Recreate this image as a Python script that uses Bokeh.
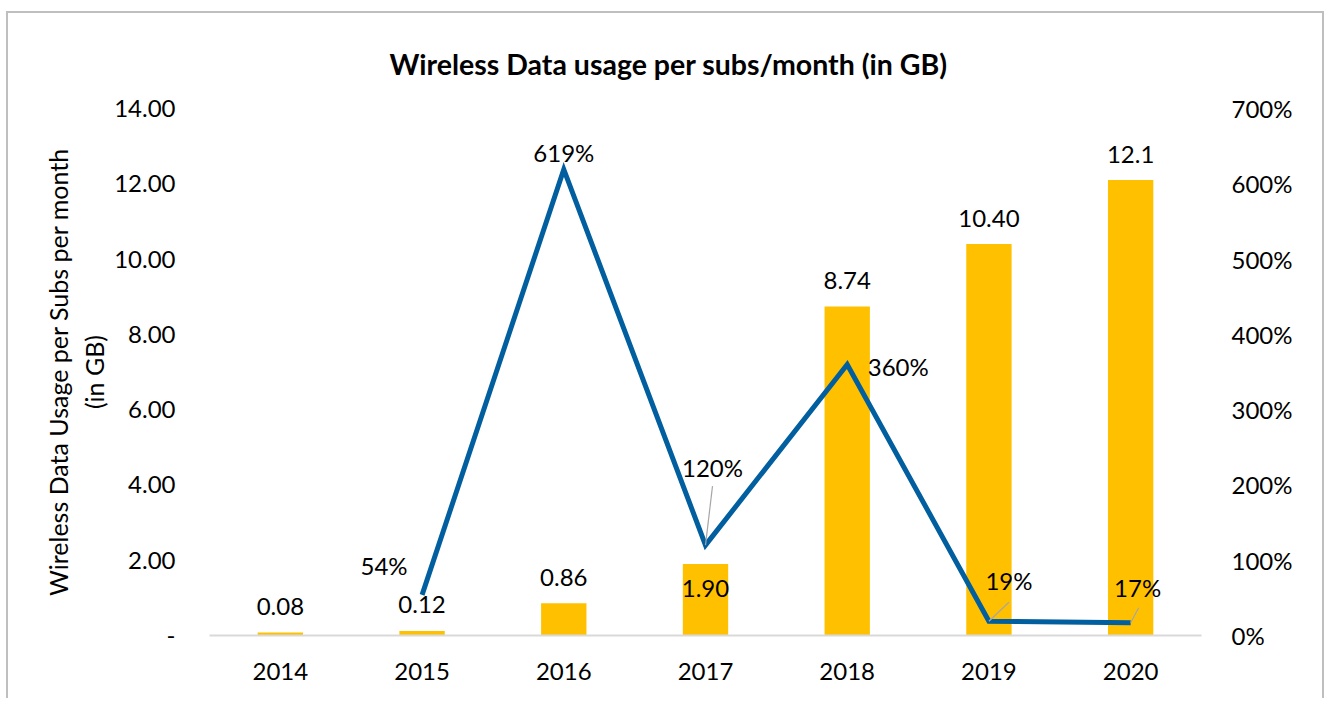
from bokeh.plotting import figure
from bokeh.models import (Range1d, LinearAxis, FixedTicker, NumeralTickFormatter,
                          ColumnDataSource, FactorRange)
from bokeh.core.properties import value
from bokeh.embed import file_html
from bokeh.resources import INLINE

# ---- data ----
years = ["2014", "2015", "2016", "2017", "2018", "2019", "2020"]
usage_gb = [0.08, 0.12, 0.86, 1.90, 8.74, 10.40, 12.1]
usage_labels = ["0.08", "0.12", "0.86", "1.90", "8.74", "10.40", "12.1"]
growth_years = ["2015", "2016", "2017", "2018", "2019", "2020"]
growth_pct = [0.54, 6.19, 1.20, 3.60, 0.19, 0.17]
growth_labels = ["54%", "619%", "120%", "360%", "19%", "17%"]
left_ticks = [0, 2, 4, 6, 8, 10, 12, 14]
right_ticks = [0, 1, 2, 3, 4, 5, 6, 7]
title_text = "Wireless Data usage per subs/month (in GB)"
y_label = "Wireless Data Usage per Subs per month\n(in GB)"

# ---- styles ----
FONT = "Lato"
BAR = "#FFC000"
LINE = "#015E9F"
FS = "24px"
bar_label_dy = [-26, -26, -26, 25, -26, -26, -26]
line_label_dx = [-38, 0, 7, 51, 20, 7]
line_label_dy = [-29, -17, -78, 2, -41, -35]
leader_years_idx = [3, 5, 6]          # 2017, 2019, 2020
leader_dx_px = [7, 20, 8]
leader_dy_px = [59, 19, 15]

FRAME_W, FRAME_H = 992, 527
px_per_cat = FRAME_W / len(years)
px_per_pct = FRAME_H / right_ticks[-1]

p = figure(x_range=FactorRange(*years), y_range=Range1d(left_ticks[0], left_ticks[-1]),
           width=1324, height=698, output_backend="svg", toolbar_location=None,
           min_border_left=209, min_border_right=123, min_border_top=108,
           min_border_bottom=63, title=title_text)
p.border_fill_color = None
p.background_fill_color = None
p.styles = {"box-shadow": "inset 0 11px 0 #ffffff, inset 6px 0 0 #ffffff, "
                          "inset 0 13px 0 #bfbfbf, inset 8px 0 0 #bfbfbf, "
                          "inset -2px 0 0 #bfbfbf"}
p.extra_y_ranges = {"pct": Range1d(right_ticks[0], right_ticks[-1])}
p.outline_line_color = None
p.xgrid.grid_line_color = None
p.ygrid.grid_line_color = None

p.title.text_font = FONT
p.title.text_font_size = "28.5px"
p.title.text_font_style = "bold"
p.title.text_color = "#000000"
p.title.align = "left"
p.title.offset = 180
p.title.standoff = 55

# bars
p.vbar(x=years, top=usage_gb, width=0.32, fill_color=BAR, line_color=None)

# line
p.line(x=growth_years, y=growth_pct, y_range_name="pct", line_color=LINE,
       line_width=5, line_join="miter")

# leader lines
lx0 = [i + 0.5 for i in leader_years_idx]
ly0 = [growth_pct[growth_years.index(years[i])] for i in leader_years_idx]
lx1 = [x + dx / px_per_cat for x, dx in zip(lx0, leader_dx_px)]
ly1 = [y + dy / px_per_pct for y, dy in zip(ly0, leader_dy_px)]
p.segment(x0=lx0, y0=ly0, x1=lx1, y1=ly1, y_range_name="pct",
          line_color="#a6a6a6", line_width=1.2)

# bar labels
bsrc = ColumnDataSource(dict(x=years, y=usage_gb, t=usage_labels, dy=bar_label_dy))
p.text(x="x", y="y", text="t", y_offset="dy", source=bsrc, text_align="center",
       text_baseline="middle", text_font=value(FONT), text_font_size=FS,
       text_color="#000000")

# line labels
lsrc = ColumnDataSource(dict(x=growth_years, y=growth_pct, t=growth_labels,
                             dx=line_label_dx, dy=line_label_dy))
p.text(x="x", y="y", text="t", x_offset="dx", y_offset="dy", source=lsrc,
       y_range_name="pct", text_align="center", text_baseline="middle",
       text_font=value(FONT), text_font_size=FS, text_color="#000000")

# axes
for ax in [p.xaxis[0], p.yaxis[0]]:
    ax.major_tick_line_color = None
    ax.minor_tick_line_color = None
    ax.major_label_text_font = FONT
    ax.major_label_text_font_size = FS
    ax.major_label_text_color = "#000000"

p.xaxis.axis_line_color = "#d9d9d9"
p.xaxis.axis_line_width = 2
p.xaxis.major_label_standoff = 21

p.yaxis.axis_line_color = None
p.yaxis.ticker = FixedTicker(ticks=left_ticks)
p.yaxis.formatter = NumeralTickFormatter(format="0.00")
p.yaxis.major_label_overrides = {0: "-"}
p.yaxis.major_label_standoff = 28
p.yaxis.axis_label = y_label
p.yaxis.axis_label_text_font = FONT
p.yaxis.axis_label_text_font_size = "25px"
p.yaxis.axis_label_text_font_style = "normal"
p.yaxis.axis_label_text_color = "#000000"
p.yaxis.axis_label_standoff = 2

ra = LinearAxis(y_range_name="pct", ticker=FixedTicker(ticks=right_ticks),
                formatter=NumeralTickFormatter(format="0%"))
ra.axis_line_color = None
ra.major_tick_line_color = None
ra.minor_tick_line_color = None
ra.major_label_text_font = FONT
ra.major_label_text_font_size = FS
ra.major_label_text_color = "#000000"
ra.major_label_standoff = 24
p.add_layout(ra, "right")

open("out.html", "w").write(file_html(p, INLINE))
